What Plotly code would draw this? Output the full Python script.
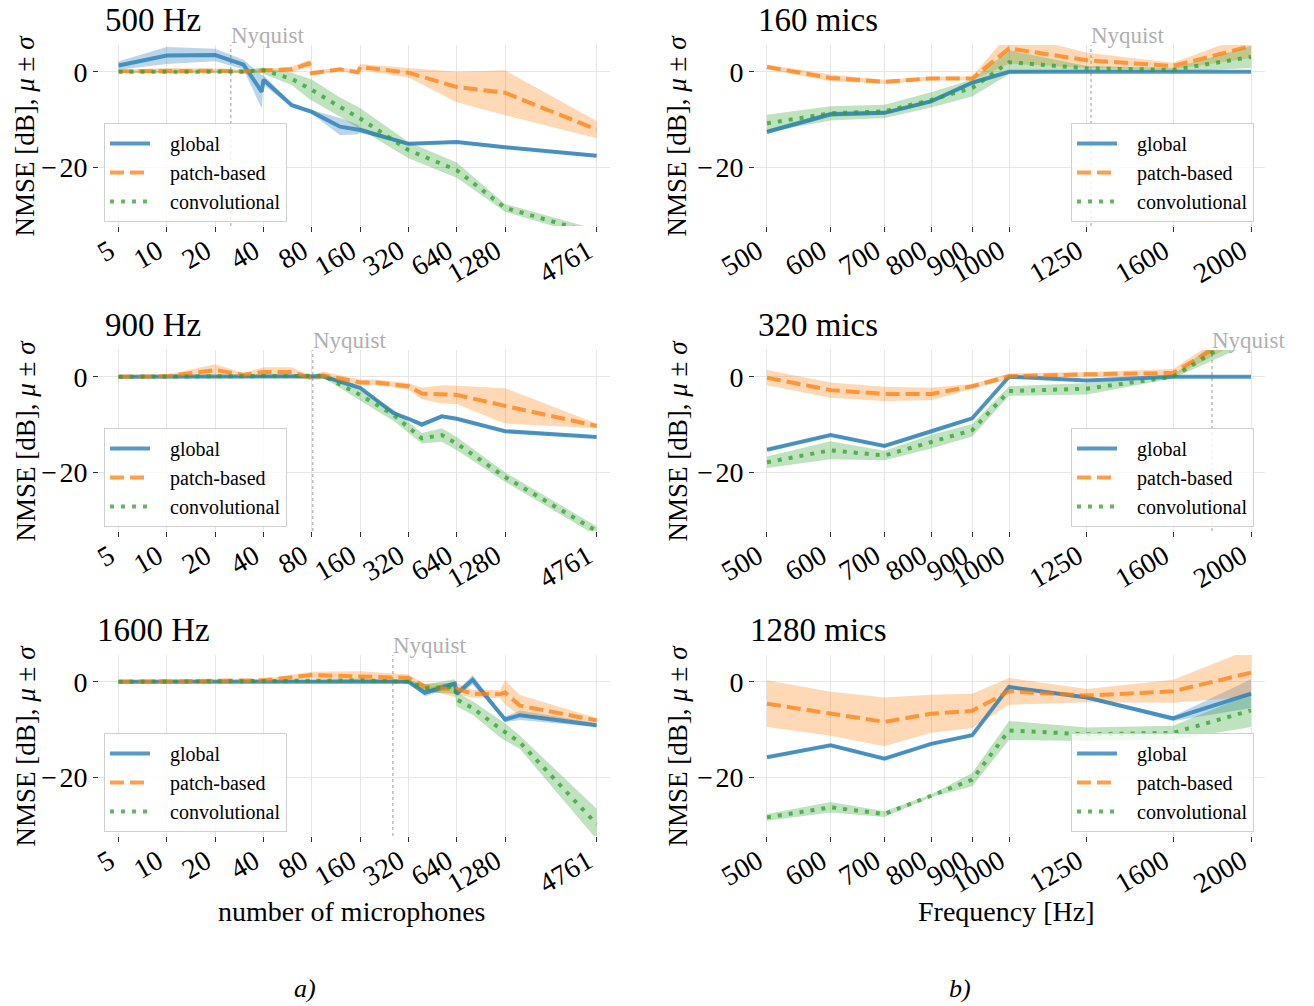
import math
import plotly.graph_objects as go

# ---------------- data ----------------
# left column: NMSE vs number of microphones at fixed frequency
MICS_500 = [5, 10, 20, 30, 39, 40, 60, 77, 80, 120, 155, 160, 320, 640, 1280, 4761]
GLOB_500_M = [1.3, 3.4, 3.5, 1.5, -4.2, -1.7, -7.0, -8.2, -8.4, -11.5, -12.1, -12.2, -15.1, -14.7, -15.8, -17.6]
GLOB_500_S = [0.9, 1.8, 1.3, 1.0, 3.5, 1.0, 0.4, 0.4, 0.4, 1.8, 1.0, 0.6, 0.3, 0.3, 0.3, 0.3]
PATCH_500_M = [0.1, 0.2, 0.2, 0.1, 0.3, 0.3, 0.5, 1.75, -0.3, 0.5, -0.1, 1.0, -0.2, -3.2, -4.4, -12.1]
PATCH_500_S = [0.3, 0.6, 0.5, 0.3, 0.3, 0.3, 0.6, 0.7, 0.5, 0.4, 0.5, 0.6, 1.0, 3.2, 4.7, 1.8]
CONV_500_M = [0.0, 0.0, 0.0, 0.0, 0.3, 0.3, -1.5, -3.5, -3.8, -7.4, -9.6, -9.8, -16.4, -20.6, -28.5, -34.0]
CONV_500_S = [0.2, 0.2, 0.2, 0.3, 0.6, 0.6, 1.3, 2.2, 2.2, 2.0, 2.2, 2.2, 1.7, 1.6, 0.8, 1.0]

MICS_900 = [5, 10, 20, 30, 40, 60, 80, 94, 160, 200, 258, 320, 388, 517, 640, 1280, 4761]
GLOB_900_M = [0, 0, 0, 0, 0, 0, 0, 0.1, -2.3, -4.8, -7.6, -8.8, -10.0, -8.3, -8.8, -11.4, -12.6]
GLOB_900_S = [0.1, 0.1, 0.1, 0.1, 0.1, 0.1, 0.2, 0.2, 0.3, 0.3, 0.3, 0.3, 0.5, 0.4, 0.3, 0.3, 0.3]
PATCH_900_M = [0, 0.1, 1.4, 0.4, 1.0, 1.0, -0.3, 0.3, -1.2, -1.2, -1.6, -2.0, -3.5, -3.7, -3.8, -6.1, -10.3]
PATCH_900_S = [0.2, 0.3, 1.2, 0.4, 1.0, 1.0, 0.4, 0.8, 0.6, 0.6, 0.6, 0.7, 1.2, 1.9, 1.9, 3.7, 0.5]
CONV_900_M = [0, 0, 0, 0, 0.1, 0, 0, 0.2, -3.8, -5.8, -8.0, -10.6, -12.9, -12.2, -14.0, -21.0, -32.3]
CONV_900_S = [0.1, 0.1, 0.1, 0.1, 0.2, 0.2, 0.2, 0.3, 1.2, 1.2, 1.2, 1.1, 1.1, 1.4, 1.4, 1.0, 1.0]

MICS_1600 = [5, 10, 20, 40, 80, 160, 320, 405, 623, 640, 804, 1190, 1280, 1587, 4761]
GLOB_1600_M = [0, 0, 0, 0, 0, 0, 0, -2.3, -0.4, -2.5, 0.4, -6.6, -7.9, -7.0, -9.1]
GLOB_1600_S = [0.1, 0.1, 0.1, 0.1, 0.1, 0.1, 0.2, 0.8, 0.5, 0.5, 1.0, 0.5, 0.6, 1.0, 0.4]
PATCH_1600_M = [0, 0.1, 0.2, 0.3, 1.4, 1.2, 0.8, -1.0, -1.7, -1.5, -2.5, -2.6, -2.2, -5.0, -8.1]
PATCH_1600_S = [0.2, 0.2, 0.2, 0.3, 0.7, 1.0, 0.7, 0.6, 1.5, 1.2, 0.8, 0.8, 2.5, 2.2, 0.5]
CONV_1600_M = [0, 0, 0, 0.1, 0.2, 0.3, 0, -1.4, -1.0, -3.7, -5.5, -9.8, -10.5, -12.7, -29.8]
CONV_1600_S = [0.1, 0.1, 0.1, 0.2, 0.3, 0.4, 0.3, 0.8, 1.5, 1.5, 1.4, 1.8, 1.8, 1.4, 3.2]

# right column: NMSE vs frequency at fixed number of microphones
FREQS = [500, 600, 700, 800, 900, 1000, 1250, 1600, 2000]
GLOB_160_M = [-12.6, -8.9, -8.6, -6.2, -2.3, 0, 0, 0, 0]
GLOB_160_S = [0.5, 0.5, 0.4, 0.4, 0.3, 0.1, 0.1, 0.1, 0.1]
PATCH_160_M = [1.0, -1.3, -2.1, -1.4, -1.4, 4.9, 2.4, 1.2, 5.4]
PATCH_160_S = [0.5, 0.7, 0.4, 0.4, 0.4, 3.2, 1.6, 0.7, 2.5]
CONV_160_M = [-10.8, -8.7, -8.3, -5.9, -3.4, 2.0, 0.7, 0.4, 3.1]
CONV_160_S = [1.8, 1.5, 1.4, 1.6, 1.8, 2.5, 0.5, 0.4, 2.3]

GLOB_320_M = [-15.3, -12.2, -14.5, -11.5, -8.7, 0, -0.8, 0, 0]
GLOB_320_S = [0.3, 0.3, 0.3, 0.5, 0.3, 0.2, 0.3, 0.1, 0.1]
PATCH_320_M = [-0.2, -2.8, -3.6, -3.6, -2.0, 0.1, 0.5, 0.8, 10.5]
PATCH_320_S = [1.6, 1.6, 1.5, 1.3, 0.5, 0.6, 0.5, 0.8, 2.0]
CONV_320_M = [-17.9, -15.4, -16.5, -13.6, -11.2, -3.0, -2.5, 0, 10.0]
CONV_320_S = [1.2, 1.9, 1.0, 1.4, 1.3, 1.0, 1.2, 0.3, 3.0]

GLOB_1280_M = [-15.8, -13.3, -16.1, -13.0, -11.2, -1.1, -3.3, -7.7, -2.5]
GLOB_1280_S = [0.3, 0.3, 0.3, 0.3, 0.3, 0.3, 0.3, 0.5, 3.0]
PATCH_1280_M = [-4.6, -6.7, -8.4, -6.7, -6.1, -2.0, -2.9, -2.0, 1.9]
PATCH_1280_S = [4.9, 4.6, 5.1, 4.0, 3.6, 2.8, 1.4, 2.4, 5.0]
CONV_1280_M = [-28.4, -26.3, -27.7, -23.9, -20.5, -10.2, -11.0, -10.7, -6.0]
CONV_1280_S = [0.7, 1.1, 0.6, 0.3, 1.4, 2.0, 1.4, 1.5, 3.5]

MIC_TICKS = [5, 10, 20, 40, 80, 160, 320, 640, 1280, 4761]
FREQ_TICKS = [500, 600, 700, 800, 900, 1000, 1250, 1600, 2000]

LEFT_TITLES = ["500 Hz", "900 Hz", "1600 Hz"]
RIGHT_TITLES = ["160 mics", "320 mics", "1280 mics"]
NYQ_MICS = [25, 81, 256]          # Nyquist mic count at 500/900/1600 Hz
NYQ_FREQ = [1265, 1789, None]     # Nyquist frequency for 160/320/1280 mics

SERIES_NAMES = ["global", "patch-based", "convolutional"]

# ---------------- style ----------------
W, H = 1314, 1006
FONT = "Liberation Serif"
RGB = [(31, 119, 180), (255, 127, 14), (44, 160, 44)]
DASH = ["solid", "14px,6px", "4px,7px"]
YR = [-32.3, 5.6]
NB = "\u00a0\u00a0\u00a0"


def px_x(p):
    return p / W


def px_y(p):
    return 1 - p / H


ROW_TOP = [45, 350, 655]
ROW_BOT = [226, 531, 836]
COLS = [(99, 610), (755, 1265)]

fig = go.Figure()

panels = [
    (0, 0, MICS_500, [(GLOB_500_M, GLOB_500_S), (PATCH_500_M, PATCH_500_S), (CONV_500_M, CONV_500_S)]),
    (0, 1, FREQS, [(GLOB_160_M, GLOB_160_S), (PATCH_160_M, PATCH_160_S), (CONV_160_M, CONV_160_S)]),
    (1, 0, MICS_900, [(GLOB_900_M, GLOB_900_S), (PATCH_900_M, PATCH_900_S), (CONV_900_M, CONV_900_S)]),
    (1, 1, FREQS, [(GLOB_320_M, GLOB_320_S), (PATCH_320_M, PATCH_320_S), (CONV_320_M, CONV_320_S)]),
    (2, 0, MICS_1600, [(GLOB_1600_M, GLOB_1600_S), (PATCH_1600_M, PATCH_1600_S), (CONV_1600_M, CONV_1600_S)]),
    (2, 1, FREQS, [(GLOB_1280_M, GLOB_1280_S), (PATCH_1280_M, PATCH_1280_S), (CONV_1280_M, CONV_1280_S)]),
]

annotations = []
shapes = []
layout_axes = {}

for k, (row, col, xs, series) in enumerate(panels):
    idx = k + 1
    xname = "x" if idx == 1 else f"x{idx}"
    yname = "y" if idx == 1 else f"y{idx}"
    xkey = "xaxis" if idx == 1 else f"xaxis{idx}"
    ykey = "yaxis" if idx == 1 else f"yaxis{idx}"
    lname = "legend" if idx == 1 else f"legend{idx}"

    # bands
    for s, (m, sd) in enumerate(series):
        up = [a + b for a, b in zip(m, sd)]
        lo = [a - b for a, b in zip(m, sd)]
        r, g, b = RGB[s]
        fig.add_trace(go.Scatter(
            x=list(xs) + list(xs)[::-1], y=up + lo[::-1],
            fill="toself", fillcolor=f"rgba({r},{g},{b},0.3)",
            line=dict(width=0), mode="lines", hoverinfo="skip",
            showlegend=False, xaxis=xname, yaxis=yname))
    # lines
    for s, (m, sd) in enumerate(series):
        r, g, b = RGB[s]
        fig.add_trace(go.Scatter(
            x=xs, y=m, mode="lines", name=NB + SERIES_NAMES[s],
            line=dict(color=f"rgba({r},{g},{b},0.75)", width=4, dash=DASH[s]),
            showlegend=True, legend=lname, xaxis=xname, yaxis=yname))

    x0, x1 = COLS[col]
    if col == 0:
        xrange = [math.log10(5) - 0.122, math.log10(4761) + 0.0835]
        tv = MIC_TICKS
    else:
        xrange = [math.log10(500) - 0.0149, math.log10(2000) + 0.0174]
        tv = FREQ_TICKS
    layout_axes[xkey] = dict(
        domain=[px_x(x0), px_x(x1)], anchor=yname, type="log", range=xrange,
        automargin=False,
        tickmode="array", tickvals=tv, ticktext=[str(v) for v in tv],
        tickangle=-30, showgrid=True, gridcolor="#e6e6e6", gridwidth=1,
        showline=False, zeroline=False, ticks="outside", ticklen=5,
        ticklabelshift=-9, ticklabelstandoff=-8,
        tickcolor="#333333", tickfont=dict(family=FONT, size=28, color="black"))
    layout_axes[ykey] = dict(
        domain=[px_y(ROW_BOT[row]), px_y(ROW_TOP[row])], anchor=xname,
        automargin=False,
        range=YR, tickmode="array", tickvals=[0, -20], ticktext=["0", "\u2212\u200a20"],
        showgrid=True, gridcolor="#e6e6e6", gridwidth=1, showline=False,
        zeroline=False, ticks="outside", ticklen=5, tickcolor="#333333",
        tickfont=dict(family=FONT, size=28, color="black"))

    # legend
    if col == 0:
        legpos = dict(x=px_x(104), xanchor="left")
    else:
        legpos = dict(x=px_x(1254), xanchor="right")
    layout_axes[lname] = dict(
        **legpos, y=px_y(ROW_BOT[row] - 4), yanchor="bottom",
        bgcolor="rgba(255,255,255,0.8)", bordercolor="#d0d0d0", borderwidth=1,
        font=dict(family=FONT, size=20, color="black"), tracegroupgap=0,
        itemwidth=40)

    # panel title
    title = LEFT_TITLES[row] if col == 0 else RIGHT_TITLES[row]
    tx = 153 if col == 0 else 818
    annotations.append(dict(
        text=title, x=px_x(tx), y=px_y(ROW_TOP[row] - 25), xref="paper", yref="paper",
        xanchor="center", yanchor="middle", showarrow=False, borderpad=0,
        font=dict(family=FONT, size=33, color="black")))

    # y label
    lx = 25 if col == 0 else 677
    annotations.append(dict(
        text="NMSE [dB], <i>\u03bc</i> \u00b1 <i>\u03c3</i>", textangle=-90,
        x=px_x(lx), y=px_y((ROW_TOP[row] + ROW_BOT[row]) / 2), xref="paper", yref="paper",
        xanchor="center", yanchor="middle", showarrow=False,
        font=dict(family=FONT, size=27, color="black")))

    # Nyquist marker
    nyq = NYQ_MICS[row] if col == 0 else NYQ_FREQ[row]
    if nyq is not None:
        shapes.append(dict(
            type="line", xref=xname, yref=f"{yname} domain", x0=nyq, x1=nyq, y0=0, y1=1,
            line=dict(color="#bdbdbd", width=1.5, dash="dot"), layer="below"))
        annotations.append(dict(
            text="Nyquist", x=math.log10(nyq), y=1, xref=xname, yref=f"{yname} domain",
            xanchor="left", yanchor="bottom", yshift=-5, xshift=-2, showarrow=False,
            font=dict(family=FONT, size=23, color="#b0b0b0")))

# x axis titles and subfigure tags
annotations.append(dict(text="number of microphones", x=px_x(352), y=px_y(911),
                        xref="paper", yref="paper", xanchor="center", yanchor="middle",
                        showarrow=False, font=dict(family=FONT, size=28, color="black")))
annotations.append(dict(text="Frequency [Hz]", x=px_x(1006), y=px_y(911),
                        xref="paper", yref="paper", xanchor="center", yanchor="middle",
                        showarrow=False, font=dict(family=FONT, size=28, color="black")))
annotations.append(dict(text="<i>a)</i>", x=px_x(305), y=px_y(988),
                        xref="paper", yref="paper", xanchor="center", yanchor="middle",
                        showarrow=False, font=dict(family=FONT, size=26, color="black")))
annotations.append(dict(text="<i>b)</i>", x=px_x(960), y=px_y(988),
                        xref="paper", yref="paper", xanchor="center", yanchor="middle",
                        showarrow=False, font=dict(family=FONT, size=26, color="black")))

fig.update_layout(
    width=W, height=H, margin=dict(l=0, r=0, t=0, b=0),
    paper_bgcolor="white", plot_bgcolor="white",
    font=dict(family=FONT, color="black"),
    annotations=annotations, shapes=shapes, **layout_axes)

fig.write_html("out.html", config={"displayModeBar": False},
               post_script="document.body.style.margin='0px';")
